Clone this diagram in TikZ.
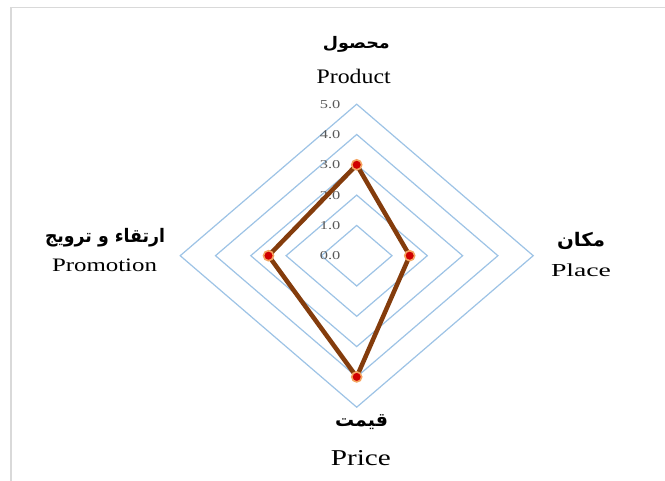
\documentclass[tikz,border=0pt]{standalone}
\usepackage{fontspec}
\usepackage{graphicx}
\setmainfont{Liberation Serif}
\newfontfamily\arabicfont[Script=Arabic]{DejaVu Sans}
\TeXXeTstate=1
\definecolor{gridblue}{HTML}{9DC3E6}
\definecolor{databrown}{HTML}{843C0C}
\definecolor{markred}{HTML}{D00000}
\definecolor{markorange}{HTML}{F4A460}
\definecolor{ticktext}{HTML}{595959}
\definecolor{framegray}{HTML}{D9D9D9}
\newcommand{\enlab}[3]{\resizebox{#1}{#2}{#3}}
\begin{document}
\begin{tikzpicture}[x=1bp,y=-1bp,
  ring/.style={draw=gridblue, line width=1.2bp},
  ticklabel/.style={anchor=base east, inner sep=0, text=ticktext},
  series/.style={draw=databrown, line width=4.5bp, line join=round},
  marker/.style={circle, fill=markred, draw=markorange, line width=1.6bp, minimum size=10bp, inner sep=0},
  arlabel/.style={inner sep=0, anchor=center},
  enlabel/.style={inner sep=0, anchor=base},
  frameline/.style={draw=framegray, line width=1.3bp}]
\useasboundingbox (0,0) rectangle (665,481);
\fill[white] (0,0) rectangle (665,481);
\draw[frameline] (11,481) -- (11,7.3) -- (665,7.3);
\foreach \k in {1,...,5}
  \draw[ring] (356.7,{255.7-30.3*\k}) -- ({356.7+35.3*\k},255.7) -- (356.7,{255.7+30.3*\k}) -- ({356.7-35.3*\k},255.7) -- cycle;
\foreach \k in {0,...,5}
  \node[ticklabel] (t\k) at (340.5,{255.7-30.3*\k+4}) {\resizebox{20.5bp}{8bp}{\k.0}};
\coordinate (pProduct) at (356.7,164.8);
\coordinate (pPlace) at (409.7,255.7);
\coordinate (pPrice) at (356.7,376.9);
\coordinate (pPromotion) at (268.5,255.7);
\draw[series] (pProduct) -- (pPlace) -- (pPrice) -- (pPromotion) -- cycle;
\node[marker] (mProduct) at (pProduct) {};
\node[marker] (mPlace) at (pPlace) {};
\node[marker] (mPrice) at (pPrice) {};
\node[marker] (mPromotion) at (pPromotion) {};
\node[arlabel] (arProduct) at (356.3,44.7) {\resizebox*{67bp}{16bp}{\arabicfont\bfseries\beginR محصول\endR}};
\node[enlabel] (enProduct) at (353.7,83.3) {\enlab{74bp}{14.3bp}{Product}};
\node[arlabel] (arPromotion) at (105,237.3) {\resizebox*{120bp}{18.7bp}{\arabicfont\bfseries\beginR ارتقاء و ترويج\endR}};
\node[enlabel] (enPromotion) at (104.5,271.7) {\enlab{105bp}{12.6bp}{Promotion}};
\node[arlabel] (arPlace) at (581,241.3) {\resizebox*{48bp}{17.3bp}{\arabicfont\bfseries\beginR مكان\endR}};
\node[enlabel] (enPlace) at (581,276) {\enlab{60bp}{12.7bp}{Place}};
\node[arlabel] (arPrice) at (361.5,422.5) {\resizebox*{53bp}{15bp}{\arabicfont\bfseries\beginR قيمت\endR}};
\node[enlabel] (enPrice) at (360.8,465) {\enlab{60bp}{15bp}{Price}};
\end{tikzpicture}
\end{document}
